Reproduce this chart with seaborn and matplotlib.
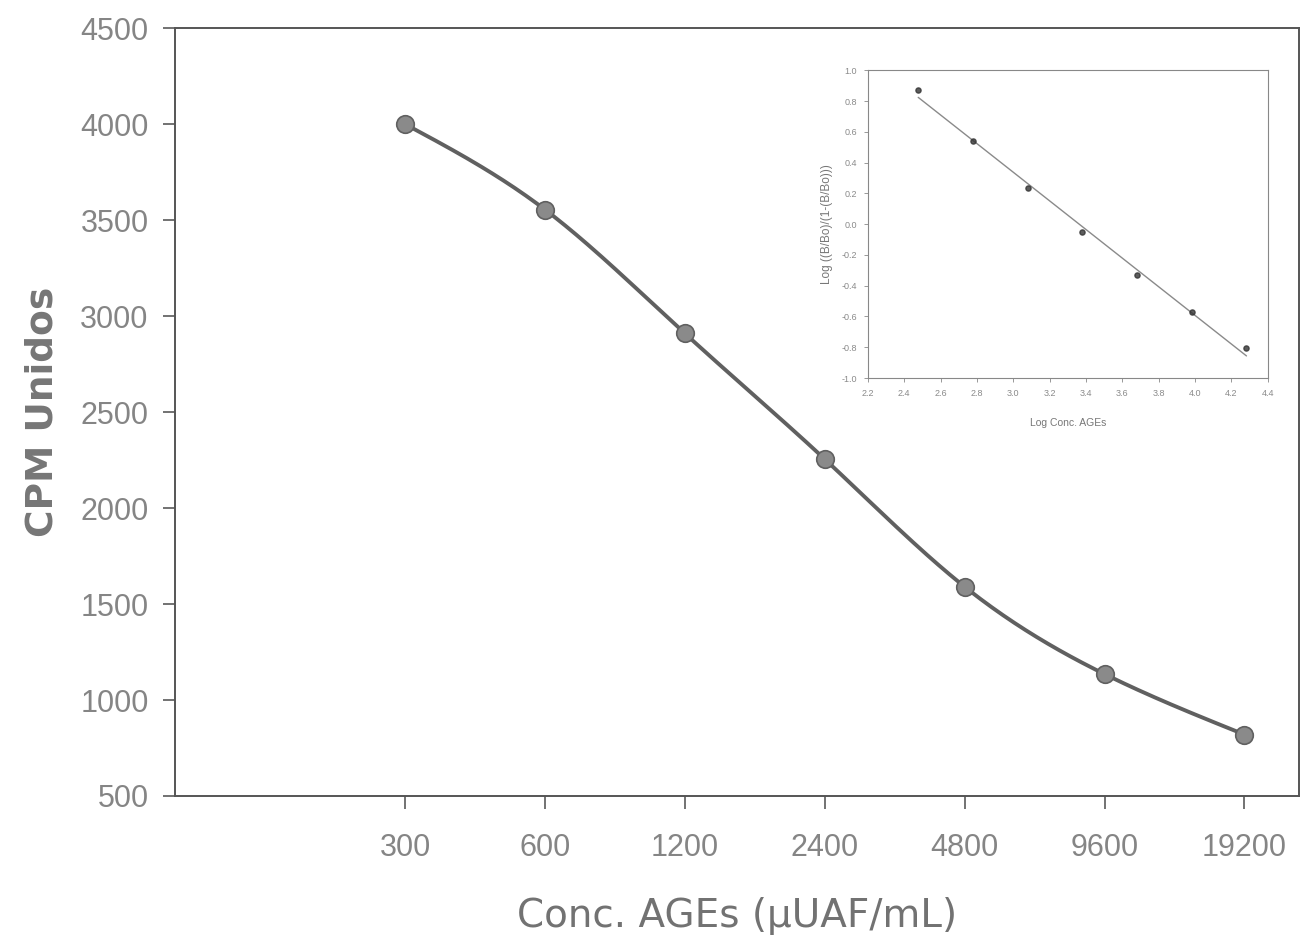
import numpy as np
import pandas as pd
import matplotlib
matplotlib.use("Agg")
import matplotlib.pyplot as plt
import seaborn as sns

# ---- data ----
conc = [300, 600, 1200, 2400, 4800, 9600, 19200]
cpm = [4000, 3555, 2910, 2255, 1590, 1135, 820]
conc_labels = ["300", "600", "1200", "2400", "4800", "9600", "19200"]

log_conc = [2.477, 2.778, 3.079, 3.380, 3.681, 3.982, 4.283]
logit_b = [0.875, 0.542, 0.232, -0.049, -0.330, -0.574, -0.808]

y_ticks = [500, 1000, 1500, 2000, 2500, 3000, 3500, 4000, 4500]
inset_xticks = [2.2, 2.4, 2.6, 2.8, 3.0, 3.2, 3.4, 3.6, 3.8, 4.0, 4.2, 4.4]
inset_yticks = [-1.0, -0.8, -0.6, -0.4, -0.2, 0.0, 0.2, 0.4, 0.6, 0.8, 1.0]

sns.set_theme(style="white")
plt.rcParams['font.family'] = ['Liberation Sans', 'DejaVu Sans']


def natural_spline(x, y, xs):
    x = np.asarray(x, float); y = np.asarray(y, float)
    n = len(x); h = np.diff(x)
    A = np.zeros((n, n)); b = np.zeros(n)
    A[0, 0] = 1; A[-1, -1] = 1
    for i in range(1, n - 1):
        A[i, i - 1] = h[i - 1]
        A[i, i] = 2 * (h[i - 1] + h[i])
        A[i, i + 1] = h[i]
        b[i] = 3 * ((y[i + 1] - y[i]) / h[i] - (y[i] - y[i - 1]) / h[i - 1])
    c = np.linalg.solve(A, b)
    out = np.empty_like(xs)
    for k, xv in enumerate(xs):
        i = min(max(np.searchsorted(x, xv) - 1, 0), n - 2)
        t = xv - x[i]
        bi = (y[i + 1] - y[i]) / h[i] - h[i] * (2 * c[i] + c[i + 1]) / 3
        di = (c[i + 1] - c[i]) / (3 * h[i])
        out[k] = y[i] + bi * t + c[i] * t ** 2 + di * t ** 3
    return out


fig = plt.figure(figsize=(13.11, 9.38), dpi=100)
ax = fig.add_axes([0.1335, 0.1514, 0.857, 0.8186])

lx = np.log2(conc)
xs = np.linspace(lx[0], lx[-1], 300)
ys = natural_spline(lx, cpm, xs)
curve = pd.DataFrame({"x": 2 ** xs, "y": ys})
pts = pd.DataFrame({"x": conc, "y": cpm})

sns.lineplot(data=curve, x="x", y="y", ax=ax, color="#606060", linewidth=2.8, sort=False)
sns.scatterplot(data=pts, x="x", y="y", ax=ax, color="#8a8a8a", edgecolor="#606060",
                linewidth=1.2, s=160, zorder=5)

ax.set_xscale("log", base=2)
ax.set_xlim(96, 25100)
ax.set_ylim(500, 4500)
ax.set_xticks(conc)
ax.set_xticklabels(conc_labels)
ax.minorticks_off()
ax.set_yticks(y_ticks)
ax.tick_params(axis="both", colors="#5a5a5a", labelcolor="#858585", labelsize=22,
               length=9, width=1.2, direction="out", bottom=True, left=True)
ax.tick_params(axis="x", pad=18)
ax.tick_params(axis="y", pad=10)
for s in ax.spines.values():
    s.set_color("#555555")
    s.set_linewidth(1.4)
ax.set_xlabel("Conc. AGEs (µUAF/mL)", fontsize=28, color="#727272",
              family="DejaVu Sans", labelpad=24)
ax.set_ylabel("CPM Unidos", fontsize=27, color="#767676", family="DejaVu Sans",
              fontweight="bold", labelpad=14)

# ---- inset ----
ins = fig.add_axes([0.662, 0.597, 0.305, 0.328])
inset_df = pd.DataFrame({"x": log_conc, "y": logit_b})
sns.regplot(data=inset_df, x="x", y="y", ax=ins, ci=None,
            scatter_kws=dict(color="#333333", s=14, zorder=5),
            line_kws=dict(color="#8a8a8a", linewidth=1.0))
ins.set_xlim(2.2, 4.4)
ins.set_ylim(-1.0, 1.0)
ins.set_xticks(inset_xticks)
ins.set_xticklabels([f"{v:.1f}" for v in inset_xticks])
ins.set_yticks(inset_yticks)
ins.set_yticklabels([f"{v:.1f}" for v in inset_yticks])
ins.tick_params(axis="both", colors="#888888", labelcolor="#8a8a8a", labelsize=6.5,
                length=3, width=0.6, direction="out", bottom=True, left=True, pad=5)
for s in ins.spines.values():
    s.set_color("#888888")
    s.set_linewidth(0.8)
ins.set_xlabel("Log Conc. AGEs", fontsize=7.5, color="#777777", labelpad=14)
ins.set_ylabel("Log ((B/Bo)/(1-(B/Bo)))", fontsize=8.5, color="#777777", labelpad=6)

fig.savefig("out.png", dpi=100)
